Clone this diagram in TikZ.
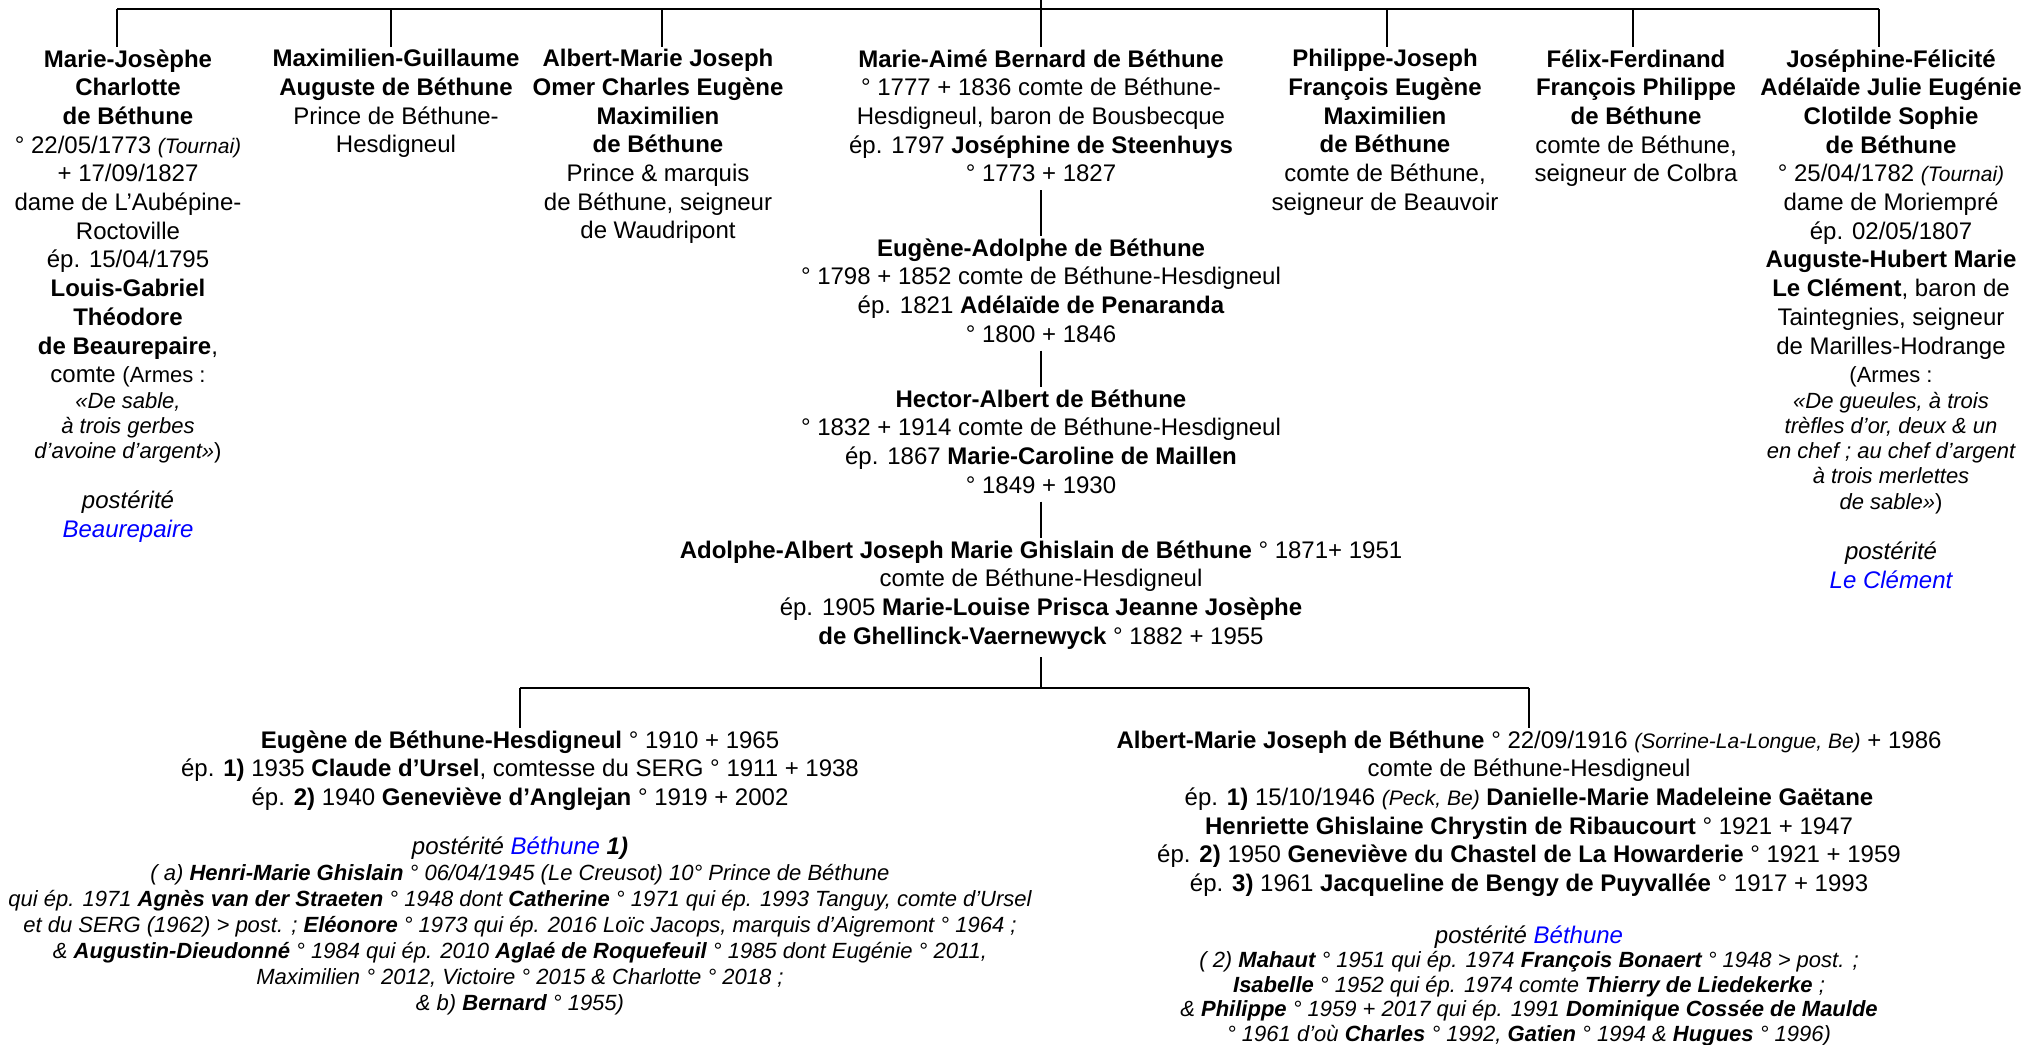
\documentclass[tikz,border=0pt]{standalone}
\usepackage{fontspec}
\setmainfont{Liberation Sans}

\tikzset{
  person/.style={align=center, anchor=north, inner sep=1pt, font=\fontsize{12}{14.35}\selectfont},
  issue/.style={align=center, anchor=north, inner sep=1pt, font=\fontsize{11}{13}\selectfont\itshape},
  link/.style={line width=1.3pt},
}
\newcommand{\lieu}[1]{{\fontsize{10.5}{12}\selectfont\itshape #1}}
\newcommand{\branche}[1]{\textcolor{blue}{#1}}

\begin{document}
\begin{tikzpicture}[x=0.5pt,y=-0.5pt]
\path[use as bounding box] (0,0) rectangle (2021,1044);

% children of the first generation
\node[person] (mjc) at (128,47) {\textbf{Marie-Josèphe}\\ \textbf{Charlotte}\\ \textbf{de Béthune}\\
  ° 22/05/1773 \lieu{(Tournai)}\\ + 17/09/1827\\ dame de L'Aubépine-\\ Roctoville\\ ép. 15/04/1795\\
  \textbf{Louis-Gabriel}\\ \textbf{Théodore}\\ \textbf{de Beaurepaire},\\ comte {\fontsize{11}{13}\selectfont (Armes :}\\[-1.7pt]
  {\fontsize{11}{13}\selectfont\itshape «De sable,}\\[-1.7pt]
  {\fontsize{11}{13}\selectfont\itshape à trois gerbes}\\[-1.7pt]
  {\fontsize{11}{13}\selectfont{\itshape d'avoine d'argent»})}};
\node[person, font=\fontsize{12}{14.5}\selectfont\itshape] (mjcpost) at (128,488) {postérité\\ \branche{Beaurepaire}};

\node[person] (mga) at (396,47) {\textbf{Maximilien-Guillaume}\\ \textbf{Auguste de Béthune}\\
  Prince de Béthune-\\ Hesdigneul};

\node[person] (amj) at (658,47) {\textbf{Albert-Marie Joseph}\\ \textbf{Omer Charles Eugène}\\
  \textbf{Maximilien}\\ \textbf{de Béthune}\\ Prince \& marquis\\ de Béthune, seigneur\\ de Waudripont};

\node[person] (mab) at (1041,47) {\textbf{Marie-Aimé Bernard de Béthune}\\
  ° 1777 + 1836 comte de Béthune-\\ Hesdigneul, baron de Bousbecque\\
  ép. 1797 \textbf{Joséphine de Steenhuys}\\ ° 1773 + 1827};

\node[person] (pjf) at (1385,47) {\textbf{Philippe-Joseph}\\ \textbf{François Eugène}\\
  \textbf{Maximilien}\\ \textbf{de Béthune}\\ comte de Béthune,\\ seigneur de Beauvoir};

\node[person] (fff) at (1636,47) {\textbf{Félix-Ferdinand}\\ \textbf{François Philippe}\\
  \textbf{de Béthune}\\ comte de Béthune,\\ seigneur de Colbra};

\node[person] (jfa) at (1891,47) {\textbf{Joséphine-Félicité}\\ \textbf{Adélaïde Julie Eugénie}\\
  \textbf{Clotilde Sophie}\\ \textbf{de Béthune}\\ ° 25/04/1782 \lieu{(Tournai)}\\ dame de Moriempré\\
  ép. 02/05/1807\\ \textbf{Auguste-Hubert Marie}\\ \textbf{Le Clément}, baron de\\
  Taintegnies, seigneur\\ de Marilles-Hodrange\\ {\fontsize{11}{13}\selectfont (Armes :}\\[-1.7pt]
  {\fontsize{11}{13}\selectfont\itshape «De gueules, à trois}\\[-1.7pt]
  {\fontsize{11}{13}\selectfont\itshape trèfles d'or, deux \& un}\\[-1.7pt]
  {\fontsize{11}{13}\selectfont\itshape en chef ; au chef d'argent}\\[-1.7pt]
  {\fontsize{11}{13}\selectfont\itshape à trois merlettes}\\[-1.7pt]
  {\fontsize{11}{13}\selectfont{\itshape de sable»})}};
\node[person, font=\fontsize{12}{14.5}\selectfont\itshape] (jfapost) at (1891,539) {postérité\\ \branche{Le Clément}};

% main line
\node[person] (ead) at (1041,236) {\textbf{Eugène-Adolphe de Béthune}\\
  ° 1798 + 1852 comte de Béthune-Hesdigneul\\ ép. 1821 \textbf{Adélaïde de Penaranda}\\ ° 1800 + 1846};

\node[person] (hab) at (1041,387) {\textbf{Hector-Albert de Béthune}\\
  ° 1832 + 1914 comte de Béthune-Hesdigneul\\ ép. 1867 \textbf{Marie-Caroline de Maillen}\\ ° 1849 + 1930};

\node[person] (aaj) at (1041,538) {\textbf{Adolphe-Albert Joseph Marie Ghislain de Béthune} ° 1871+ 1951\\
  comte de Béthune-Hesdigneul\\ ép. 1905 \textbf{Marie-Louise Prisca Jeanne Josèphe}\\
  \textbf{de Ghellinck-Vaernewyck} ° 1882 + 1955};

% last generation
\node[person] (ebh) at (520,728) {\textbf{Eugène de Béthune-Hesdigneul} ° 1910 + 1965\\
  ép. \textbf{1)} 1935 \textbf{Claude d'Ursel}, comtesse du SERG ° 1911 + 1938\\
  ép. \textbf{2)} 1940 \textbf{Geneviève d'Anglejan} ° 1919 + 2002};
\node[issue] (ebhpost) at (520,834) {{\fontsize{12}{14}\selectfont postérité \branche{Béthune} \textbf{1)}}\\
  ( a) \textbf{Henri-Marie Ghislain} ° 06/04/1945 (Le Creusot) 10° Prince de Béthune\\
  qui ép. 1971 \textbf{Agnès van der Straeten} ° 1948 dont \textbf{Catherine} ° 1971 qui ép. 1993 Tanguy, comte d'Ursel\\
  et du SERG (1962) > post. ; \textbf{Eléonore} ° 1973 qui ép. 2016 Loïc Jacops, marquis d'Aigremont ° 1964 ;\\
  \& \textbf{Augustin-Dieudonné} ° 1984 qui ép. 2010 \textbf{Aglaé de Roquefeuil} ° 1985 dont Eugénie ° 2011,\\
  Maximilien ° 2012, Victoire ° 2015 \& Charlotte ° 2018 ;\\
  \& b) \textbf{Bernard} ° 1955)};

\node[person] (amjb) at (1529,728) {\textbf{Albert-Marie Joseph de Béthune} ° 22/09/1916 \lieu{(Sorrine-La-Longue, Be)} + 1986\\
  comte de Béthune-Hesdigneul\\
  ép. \textbf{1)} 15/10/1946 \lieu{(Peck, Be)} \textbf{Danielle-Marie Madeleine Gaëtane}\\
  \textbf{Henriette Ghislaine Chrystin de Ribaucourt} ° 1921 + 1947\\
  ép. \textbf{2)} 1950 \textbf{Geneviève du Chastel de La Howarderie} ° 1921 + 1959\\
  ép. \textbf{3)} 1961 \textbf{Jacqueline de Bengy de Puyvallée} ° 1917 + 1993};
\node[issue, font=\fontsize{11}{12.3}\selectfont\itshape] (amjbpost) at (1529,923) {{\fontsize{12}{14}\selectfont postérité \branche{Béthune}}\\
  ( 2) \textbf{Mahaut} ° 1951 qui ép. 1974 \textbf{François Bonaert} ° 1948 > post. ;\\
  \textbf{Isabelle} ° 1952 qui ép. 1974 comte \textbf{Thierry de Liedekerke} ;\\
  \& \textbf{Philippe} ° 1959 + 2017 qui ép. 1991 \textbf{Dominique Cossée de Maulde}\\
  ° 1961 d'où \textbf{Charles} ° 1992, \textbf{Gatien} ° 1994 \& \textbf{Hugues} ° 1996)};

% connectors
\coordinate (root) at (1041,0);
\coordinate (busW) at (117,9);
\coordinate (busE) at (1879,9);
\draw[link] (busW) -- (busE);
\draw[link] (root) -- (root |- busW);
\foreach \n/\x in {mjc/117,mga/391,amj/662,mab/1041,pjf/1387,fff/1633,jfa/1879}{
  \coordinate (drop) at (\x,9);
  \draw[link] (drop) -- (drop |- \n.north);
}
\draw[link] ([yshift=-3pt]mab.south) -- (ead.north);
\draw[link] ([yshift=-3pt]ead.south) -- (hab.north);
\draw[link] ([yshift=-3pt]hab.south) -- (aaj.north);
\coordinate (busSW) at (520,688);
\coordinate (busSE) at (1529,688);
\draw[link] (busSW) -- (busSE);
\draw[link] ([yshift=-3pt]aaj.south) -- (aaj.south |- busSW);
\draw[link] (busSW) -- (ebh.north);
\draw[link] (busSE) -- (amjb.north);
\end{tikzpicture}
\end{document}
